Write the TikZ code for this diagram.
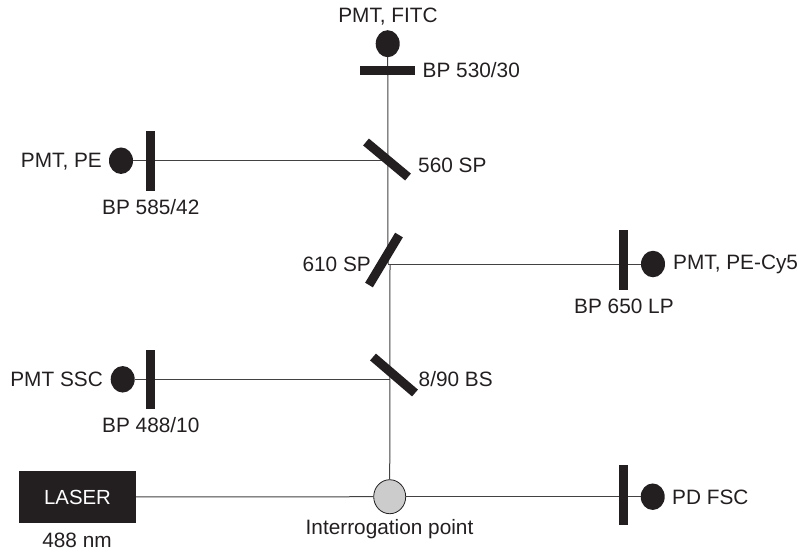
\documentclass[tikz,border=0pt]{standalone}
\usepackage{fontspec}
\usetikzlibrary{shapes.geometric}
\setmainfont{Liberation Sans}
\definecolor{ink}{HTML}{231F20}
\begin{document}
\begin{tikzpicture}[x=1pt,y=-1pt,
 pmt/.style={ellipse,fill=ink,minimum width=24pt,minimum height=26.5pt,inner sep=0pt,outer sep=0pt},
 bar/.style={line width=9pt,ink},
 beam/.style={line width=1pt,ink!85},
 lab/.style={font=\fontsize{20.8pt}{24pt}\selectfont,inner sep=0pt,text=ink}]
\useasboundingbox (0,0) rectangle (799,552);
\coordinate (bm1) at (388,160.7);
\coordinate (bm2) at (388,264);
\coordinate (bm2b) at (390,264);
\coordinate (bm3) at (390,379.3);
\node[ellipse,draw=ink,fill=black!20,line width=0.8pt,minimum width=32pt,minimum height=34pt,inner sep=0pt] (ip) at (389.7,496.7) {};
\node[pmt,minimum height=27pt] (fitc) at (387.7,43.7) {};
\node[pmt] (pe) at (121,160.7) {};
\node[pmt] (cy5) at (653,264) {};
\node[pmt] (ssc) at (122.7,379.3) {};
\node[pmt] (fsc) at (652.7,496.7) {};
\node[fill=ink,minimum width=117pt,minimum height=52pt,inner sep=0pt,text=white,font=\fontsize{20.4pt}{24pt}\selectfont] (laser) at (77.5,497) {LASER};
\draw[beam] (fitc) -- (bm2);
\draw[beam] (bm2b) -- (ip);
\draw[beam] (pe) -- (bm1);
\draw[beam] (bm2) -- (cy5);
\draw[beam] (ssc) -- (bm3);
\draw[beam] (laser) -- (ip);
\draw[beam] (ip) -- (fsc);
\draw[bar] (360,70) -- (415,70);
\draw[bar] (150.3,131) -- (150.3,190.7);
\draw[bar] (623.7,230) -- (623.7,290);
\draw[bar] (150.3,350) -- (150.3,409);
\draw[bar] (623.7,465) -- (623.7,524.5);
\draw[bar] (366,142) -- (408,177);
\draw[bar] (399,235) -- (369,285);
\draw[bar] (373,357) -- (415,393);
\node[lab] (t1) at (388,17) {PMT, FITC};
\node[lab,anchor=west] (t2) at (422.5,70) {BP 530/30};
\node[lab,anchor=east] (t3) at (102,162) {PMT, PE};
\node[lab,anchor=west] (t4) at (418,165) {560 SP};
\node[lab,anchor=west] (t5) at (102,207) {BP 585/42};
\node[lab,anchor=east] (t6) at (371,264) {610 SP};
\node[lab,anchor=west] (t7) at (673,264.5) {PMT, PE-Cy5};
\node[lab,anchor=west] (t8) at (574,306) {BP 650 LP};
\node[lab,anchor=east] (t9) at (103,379) {PMT SSC};
\node[lab,anchor=west] (t10) at (418.5,379) {8/90 BS};
\node[lab,anchor=west] (t11) at (102,425) {BP 488/10};
\node[lab,anchor=west] (t12) at (672,497) {PD FSC};
\node[lab] (t13) at (389.5,529) {Interrogation point};
\node[lab] (t14) at (77,540) {488 nm};
\end{tikzpicture}
\end{document}
